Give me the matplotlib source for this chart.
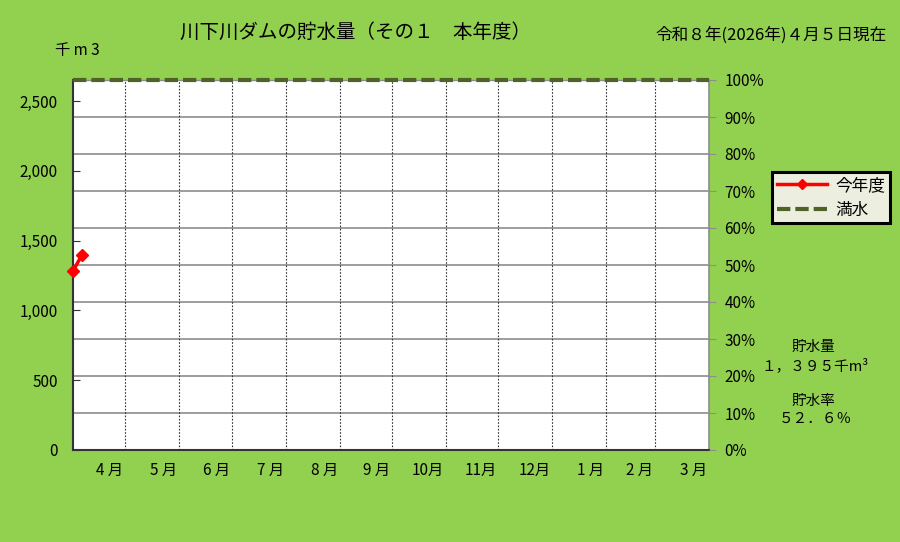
import numpy as np
import matplotlib
matplotlib.use('Agg')
import matplotlib.pyplot as plt
from matplotlib.lines import Line2D

plt.rcParams['font.family'] = ['Noto Sans CJK JP', 'DejaVu Sans']

# data
capacity = 2652            # 満水 (千m3)
days = [0, 5]              # days since 4/1
storage = [1283, 1395]     # 今年度 (千m3)
month_len = [30, 31, 30, 31, 31, 30, 31, 30, 31, 31, 28, 31]
month_labels = ['4 月', '5 月', '6 月', '7 月', '8 月', '9 月', '10月', '11月', '12月', '1 月', '2 月', '3 月']
left_ticks = [0, 500, 1000, 1500, 2000, 2500]
left_labels = ['0', '500', '1,000', '1,500', '2,000', '2,500']
pct_ticks = [0, 10, 20, 30, 40, 50, 60, 70, 80, 90, 100]

bg = '#92D050'
olive = '#4F6228'

fig = plt.figure(figsize=(9, 5.42), dpi=100)
fig.patch.set_facecolor(bg)
ax = fig.add_axes([73/900, 1-450/542, 636/900, 370/542])
ax.set_facecolor('white')

month_end = np.cumsum(month_len)
total = month_end[-1]
ax.set_xlim(0, total)
ax.set_ylim(0, capacity)

# grid
for p in pct_ticks[1:-1]:
    ax.axhline(capacity * p / 100, color='#8c8c8c', lw=1.2, zorder=1)
for d in month_end[:-1]:
    ax.axvline(d, color='#333333', lw=0.8, ls=(0, (1.5, 1.5)), zorder=1)

ax.plot([0, total], [capacity, capacity], color=olive, lw=3, ls=(0, (3.2, 1.2)),
        zorder=4, clip_on=False, label='満水')
ax.plot(days, storage, color='red', lw=2.5, marker='D', ms=6, zorder=5,
        clip_on=False, label='今年度')

ax.set_xticks([])
ax.set_yticks(left_ticks)
ax.set_yticklabels(left_labels, fontsize=11)
ax.tick_params(axis='y', direction='in', length=5, color='#333333', pad=11)
for lab in ax.get_yticklabels():
    lab.set_horizontalalignment('right')

for s in ['left', 'bottom']:
    ax.spines[s].set_color('#333333')
    ax.spines[s].set_linewidth(1.5)
ax.spines['right'].set_color('#8c8c8c')
ax.spines['right'].set_linewidth(1.2)
ax.spines['top'].set_color('#8c8c8c')
ax.spines['top'].set_linewidth(1)

for d, lab in zip(month_end, month_labels):
    ax.text(d - 1, -capacity * 0.055, lab, ha='right', va='center', fontsize=11)

ax2 = ax.twinx()
ax2.set_ylim(0, 100)
ax2.set_yticks(pct_ticks)
ax2.set_yticklabels([f'{p}%' for p in pct_ticks], fontsize=11)
ax2.tick_params(axis='y', direction='out', length=5, color='#8c8c8c', pad=6)
for s in ax2.spines.values():
    s.set_visible(False)

# legend
handles = [Line2D([], [], color='red', lw=2.5, marker='D', ms=5),
           Line2D([], [], color=olive, lw=3, ls=(0, (3.2, 1.2)))]
leg = fig.legend(handles, ['今年度', '満水'], loc='upper left',
                 bbox_to_anchor=(772/900, 1-172/542), fontsize=12,
                 handlelength=3.0, borderpad=0.3, labelspacing=0.45,
                 borderaxespad=0, handletextpad=0.5,
                 fancybox=False, framealpha=1)
leg.get_frame().set_facecolor('#ECEFDF')
leg.get_frame().set_edgecolor('black')
leg.get_frame().set_linewidth(2.2)

fig.text(356/900, 1-32/542, '川下川ダムの貯水量（その１　本年度）', ha='center', va='center', fontsize=14)
fig.text(771/900, 1-35/542, '令和８年(2026年)４月５日現在', ha='center', va='center', fontsize=12)
fig.text(77/900, 1-51/542, '千 m 3', ha='center', va='center', fontsize=11)

fig.text(813/900, 1-347/542, '貯水量', ha='center', va='center', fontsize=10.5)
fig.text(815/900, 1-366/542, '１，３９５千m³', ha='center', va='center', fontsize=10.5)
fig.text(813/900, 1-401/542, '貯水率', ha='center', va='center', fontsize=10.5)
fig.text(815/900, 1-419/542, '５２．６％', ha='center', va='center', fontsize=10.5)

fig.savefig('out.png', dpi=100, facecolor=bg)
